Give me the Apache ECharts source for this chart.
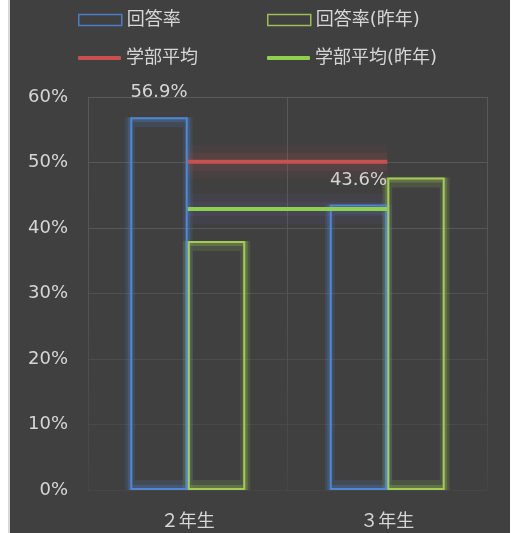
<!DOCTYPE html>
<html><head><meta charset="utf-8">
<script src="https://cdn.jsdelivr.net/npm/echarts@6/dist/echarts.min.js"></script>
<style>
html,body{margin:0;padding:0;background:#ffffff;width:516px;height:533px;overflow:hidden;}
#edge{position:absolute;left:8px;top:0;width:2px;height:533px;background:#d8d8d8;}
#chart{position:absolute;left:10px;top:0;width:500px;height:533px;}
</style></head>
<body><div id="edge"></div><div id="chart"></div>
<script>
const categories = ['２年生', '３年生'];
const rate = [56.9, 43.6];
const ratePrev = [38.0, 47.7];
const facultyAvg = [50.1, 50.1];
const facultyAvgPrev = [42.9, 42.9];
const yTicks = [0, 10, 20, 30, 40, 50, 60];

const FONT = "'DejaVu Sans', 'Noto Sans CJK JP', sans-serif";
const TXT = '#d6d6d6';
const BLUE = '#4f87d3', GREENBAR = '#a3cc57', RED = '#c8504e', GREENLINE = '#8ed14d';
const BW = 57.5;

const chart = echarts.init(document.getElementById('chart'));
function lg(name, left, top, iconStyle, h) {
  return {
    left: left, top: top, itemWidth: 43, itemHeight: h, itemGap: 0,
    textStyle: {color: TXT, fontSize: 18, fontFamily: FONT},
    data: [{name: name, icon: h > 6 ? 'rect' : 'roundRect', itemStyle: iconStyle}],
    selectedMode: false
  };
}
const hiddenX = {type: 'category', data: categories, show: false};
function glowBars(axis, data, color, o, name) {
  const w = BW + 2 * o;
  return {name: name, type: 'bar', xAxisIndex: axis, data: data, barWidth: w,
    barGap: (-200 * o / w) + '%', z: 1,
    silent: true, itemStyle: {color: 'none', borderColor: color, borderWidth: 2 * o}};
}
function glowLine(data, color, width, name) {
  return {name: name, type: 'line', data: data, symbol: 'none', z: 3, silent: true,
    lineStyle: {color: color, width: width, cap: 'butt'}};
}
chart.setOption({
  backgroundColor: '#404040',
  animation: false,
  legend: [
    lg('回答率', 63, 6, {color: 'transparent', borderColor: '#4a7cc4', borderWidth: 1.5}, 11),
    lg('回答率(昨年)', 252, 6, {color: 'transparent', borderColor: '#9dbd58', borderWidth: 1.5}, 11),
    lg('学部平均', 63, 44, {color: RED}, 4),
    lg('学部平均(昨年)', 252, 44, {color: GREENLINE}, 4)
  ],
  grid: {left: 78, right: 23, top: 97, bottom: 43},
  xAxis: [{
    type: 'category', data: categories,
    axisLine: {show: false}, axisTick: {show: false},
    axisLabel: {color: TXT, fontSize: 18, fontFamily: FONT, margin: 23},
    splitLine: {show: true, lineStyle: {width: 1, color: {type: 'linear', x: 0, y: 97, x2: 0, y2: 490, global: true,
      colorStops: [{offset: 0, color: '#5a5a5a'}, {offset: 0.45, color: '#555555'}, {offset: 1, color: '#464646'}]}}}
  }, hiddenX, hiddenX],
  yAxis: {
    type: 'value', min: 0, max: 60, interval: 10,
    axisLine: {show: false}, axisTick: {show: false},
    axisLabel: {color: TXT, fontSize: 18, fontFamily: FONT, margin: 20, formatter: v => yTicks.includes(v) ? v + '%' : ''},
    splitLine: {lineStyle: {width: 1, color: ['#474747', '#4a4a4a', '#4c4c4c', '#515151', '#575757', '#585858', '#5a5a5a']}}
  },
  series: [
    glowBars(1, rate, 'rgba(79,135,211,0.14)', 5, 'g1'),
    glowBars(1, ratePrev, 'rgba(163,204,87,0.14)', 5, 'g2'),
    glowBars(2, rate, 'rgba(79,135,211,0.25)', 2.5, 'g3'),
    glowBars(2, ratePrev, 'rgba(163,204,87,0.25)', 2.5, 'g4'),
    glowLine(facultyAvg, 'rgba(200,80,78,0.07)', 34, 'g5'),
    glowLine(facultyAvg, 'rgba(200,80,78,0.10)', 18, 'g6'),
    glowLine(facultyAvgPrev, 'rgba(120,90,200,0.07)', 30, 'g7'),
    glowLine(facultyAvgPrev, 'rgba(120,110,200,0.10)', 14, 'g8'),
    {name: '回答率', type: 'bar', data: rate, barWidth: BW, barGap: '0%', z: 2,
     itemStyle: {color: 'none', borderColor: BLUE, borderWidth: 2},
     label: {show: true, position: 'top', distance: 14, formatter: '{c}%', color: TXT, fontSize: 18, fontFamily: FONT}},
    {name: '回答率(昨年)', type: 'bar', data: ratePrev, barWidth: BW, z: 2,
     itemStyle: {color: 'none', borderColor: GREENBAR, borderWidth: 2}},
    {name: '学部平均', type: 'line', data: facultyAvg, symbol: 'none', z: 5,
     lineStyle: {color: RED, width: 4}, itemStyle: {color: RED}},
    {name: '学部平均(昨年)', type: 'line', data: facultyAvgPrev, symbol: 'none', z: 5,
     lineStyle: {color: GREENLINE, width: 4}, itemStyle: {color: GREENLINE}}
  ]
});
</script></body></html>
